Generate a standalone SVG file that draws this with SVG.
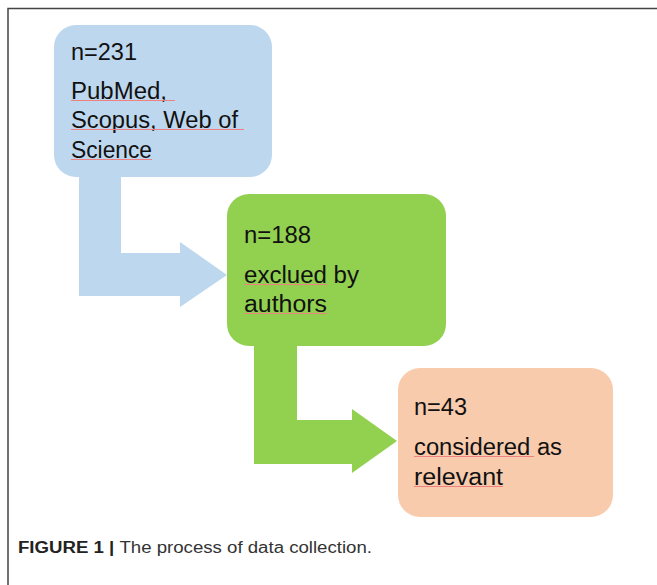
<svg xmlns="http://www.w3.org/2000/svg" width="657" height="585" viewBox="0 0 657 585">
<style>
.t{font-family:"Liberation Sans",Arial,sans-serif;font-size:23.5px;fill:#111}
.sq{stroke:#f08080;stroke-width:1;fill:none}
.cap{font-family:"Liberation Sans",Arial,sans-serif;font-size:16px;fill:#333}
</style>
<rect width="657" height="585" fill="#fff"/>
<path d="M8 585 V8.5 H657" fill="none" stroke="#444" stroke-width="1.5"/>
<g id="connectors">
<path d="M79 177 H121 V253 H180 V242 L227 275 L180 307 V296 H79 Z" fill="#bdd7ee"/>
<path d="M254 346 H297 V420 H352 V409 L397 441 L352 473 V464 H254 Z" fill="#92d050"/>
</g>
<g id="node1">
<rect x="54" y="25" width="218" height="152" rx="22" fill="#bdd7ee"/>
<text class="t" x="71" y="60" textLength="66" lengthAdjust="spacingAndGlyphs">n=231</text>
<text class="t" x="71" y="99" textLength="96" lengthAdjust="spacingAndGlyphs">PubMed,</text>
<text class="t" x="71" y="128" textLength="167" lengthAdjust="spacingAndGlyphs">Scopus, Web of</text>
<text class="t" x="71" y="158" textLength="81" lengthAdjust="spacingAndGlyphs">Science</text>
<path class="sq" d="M71 100.5 H175 M71 129.5 H244 M71 159.5 H152"/>
</g>
<g id="node2">
<rect x="227" y="194" width="219" height="152" rx="22" fill="#92d050"/>
<text class="t" x="244" y="243" textLength="67" lengthAdjust="spacingAndGlyphs">n=188</text>
<text class="t" x="244" y="283" textLength="115" lengthAdjust="spacingAndGlyphs">exclued by</text>
<text class="t" x="244" y="312" textLength="83" lengthAdjust="spacingAndGlyphs">authors</text>
<path class="sq" d="M244 284.5 H327 M244 313.5 H327"/>
</g>
<g id="node3">
<rect x="398" y="368" width="215" height="149" rx="22" fill="#f8cbad"/>
<text class="t" x="414" y="415" textLength="53" lengthAdjust="spacingAndGlyphs">n=43</text>
<text class="t" x="414" y="455" textLength="148" lengthAdjust="spacingAndGlyphs">considered as</text>
<text class="t" x="414" y="485" textLength="89" lengthAdjust="spacingAndGlyphs">relevant</text>
<path class="sq" d="M414 456.5 H534 M414 486.5 H503"/>
</g>
<text class="cap" x="18" y="553" textLength="354" lengthAdjust="spacingAndGlyphs"><tspan font-weight="bold" fill="#222">FIGURE 1 | </tspan>The process of data collection.</text>
</svg>
